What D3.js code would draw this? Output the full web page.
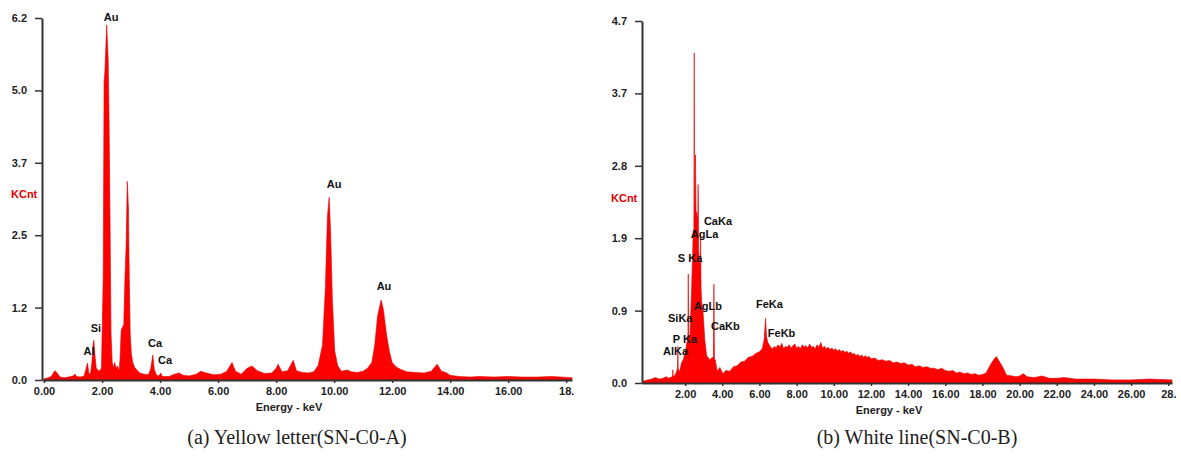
<!doctype html>
<html>
<head>
<meta charset="utf-8">
<script src="https://cdnjs.cloudflare.com/ajax/libs/d3/7.8.5/d3.min.js"></script>
<style>
  body { margin: 0; background: white; }
  svg { background: white; display: block; }
  .tick text { font-family: "Liberation Sans", Arial, sans-serif; font-weight: bold; font-size: 11px; fill: #222; }
  .peak { font-family: "Liberation Sans", Arial, sans-serif; font-weight: bold; font-size: 11px; fill: #111; }
  .unit { font-family: "Liberation Sans", Arial, sans-serif; font-weight: bold; font-size: 11px; fill: #e00000; }
  .xtitle { font-family: "Liberation Sans", Arial, sans-serif; font-weight: bold; font-size: 11px; fill: #222; }
  .caption { font-family: "Liberation Serif", "Times New Roman", serif; font-size: 20px; fill: #222; }
</style>
</head>
<body>
<svg width="1181" height="457"></svg>
<script>
// spectrum (a) - yellow letter
const specA_keV = [0.00,0.15,0.25,0.32,0.38,0.45,0.55,0.70,0.85,1.00,1.07,1.12,1.25,1.38,1.45,1.50,1.54,1.60,1.65,1.69,1.72,1.75,1.80,1.90,1.98,2.04,2.07,2.10,2.16,2.21,2.24,2.28,2.31,2.35,2.40,2.44,2.48,2.53,2.58,2.62,2.66,2.70,2.75,2.79,2.83,2.87,2.91,2.93,2.97,3.01,3.06,3.12,3.20,3.30,3.45,3.60,3.68,3.75,3.80,3.88,3.96,4.02,4.08,4.30,4.50,4.65,4.80,5.00,5.25,5.40,5.60,5.85,6.10,6.30,6.48,6.60,6.80,7.00,7.17,7.35,7.60,7.85,8.00,8.07,8.20,8.40,8.59,8.70,8.90,9.10,9.30,9.45,9.60,9.70,9.77,9.83,9.88,9.94,10.02,10.12,10.25,10.45,10.60,10.80,11.00,11.15,11.30,11.40,11.50,11.62,11.70,11.80,11.90,12.00,12.15,12.30,12.50,12.80,13.10,13.35,13.55,13.70,13.85,14.00,14.30,14.70,15.00,15.50,16.00,16.50,17.00,17.50,18.20];
const specA_kcnt = [0.02,0.04,0.06,0.12,0.16,0.12,0.05,0.04,0.05,0.07,0.10,0.06,0.05,0.07,0.20,0.29,0.12,0.10,0.30,0.60,0.68,0.45,0.20,0.15,0.20,1.76,5.10,5.30,6.08,5.50,4.55,2.50,0.80,0.30,0.22,0.30,0.20,0.24,0.15,0.35,0.85,0.90,0.95,1.76,2.30,3.40,2.95,2.05,0.80,0.45,0.30,0.22,0.17,0.12,0.10,0.09,0.20,0.43,0.18,0.08,0.07,0.12,0.06,0.06,0.10,0.12,0.08,0.07,0.10,0.15,0.12,0.09,0.10,0.15,0.30,0.15,0.10,0.20,0.24,0.16,0.11,0.12,0.20,0.27,0.14,0.16,0.34,0.16,0.13,0.12,0.14,0.25,0.60,1.60,2.80,3.13,2.50,1.37,0.50,0.25,0.15,0.17,0.14,0.13,0.15,0.20,0.30,0.60,1.10,1.37,1.20,0.80,0.50,0.30,0.22,0.18,0.14,0.13,0.12,0.15,0.27,0.15,0.13,0.08,0.06,0.05,0.06,0.05,0.06,0.05,0.05,0.06,0.04];
const ticksA_y = ["0.0","1.2","2.5","3.7","5.0","6.2"];
const ticksA_x = ["0.00","2.00","4.00","6.00","8.00","10.00","12.00","14.00","16.00","18."];
const peaksA = [["Au",2.31,6.15],["Si",1.79,0.82],["Al",1.55,0.43],["Ca",3.83,0.57],["Ca",4.17,0.27],["Au",10.0,3.29],["Au",11.72,1.54]];

// spectrum (b) - white line
const specB_keV = [
  -0.30,-0.20,0.20,0.40,0.60,0.80,1.00,1.10,1.20,1.32,1.34,1.36,1.45,1.55,1.59,1.61,1.63,1.70,
  1.81,1.90,1.99,2.05,2.08,2.15,2.17,2.19,2.26,2.35,2.44,2.47,2.49,2.51,2.53,2.56,2.59,2.62,
  2.68,2.70,2.73,2.76,2.81,2.83,2.86,2.89,2.97,3.06,3.16,3.33,3.42,3.52,3.55,3.58,3.62,3.73,3.87,4.03,
  4.20,4.40,4.60,4.80,5.00,5.20,5.40,5.60,5.80,6.00,6.15,6.25,6.33,6.38,6.45,
  6.5,6.6,6.7,6.8,6.9,7.0,7.1,7.2,7.3,7.4,7.5,7.6,7.7,7.8,7.9,8.0,8.1,8.2,8.3,8.4,
  8.5,8.6,8.7,8.8,8.9,9.0,9.1,9.2,9.3,9.4,9.5,9.6,9.7,9.8,9.9,10.0,10.1,10.2,10.3,10.4,
  10.5,10.6,10.7,10.8,10.9,11.0,11.1,11.2,11.3,11.4,11.5,11.6,11.7,11.8,11.9,12.0,
  12.2,12.4,12.6,12.8,13.0,13.2,13.4,13.6,13.8,14.0,14.2,14.4,14.6,14.8,15.0,15.2,15.4,15.6,15.8,16.0,16.2,16.4,16.6,16.8,17.0,17.2,17.4,17.6,17.8,18.0,18.2,
  18.40,18.60,18.75,18.90,19.10,19.30,19.60,19.80,20.00,20.20,20.40,20.80,21.20,21.60,22.00,22.40,23.00,24.00,25.00,26.00,27.00,28.20];
const specB_kcnt = [
  0.00,0.03,0.05,0.07,0.05,0.06,0.08,0.06,0.07,0.08,0.17,0.08,0.10,0.15,0.20,0.47,0.18,0.14,
  0.26,0.30,0.38,0.45,0.51,0.55,1.40,0.60,0.60,1.20,1.96,1.90,4.24,2.00,2.20,2.93,2.10,2.20,
  2.10,2.55,1.70,1.60,1.50,1.90,1.20,1.05,0.90,0.55,0.35,0.30,0.32,0.33,1.27,0.30,0.30,0.15,0.20,0.12,
  0.16,0.15,0.21,0.22,0.27,0.28,0.33,0.34,0.38,0.40,0.44,0.55,0.83,0.60,0.52,
  0.50,0.46,0.44,0.47,0.45,0.49,0.46,0.51,0.44,0.47,0.46,0.49,0.45,0.48,0.50,0.45,0.47,0.44,0.49,0.46,
  0.48,0.45,0.50,0.46,0.47,0.44,0.49,0.46,0.52,0.45,0.47,0.44,0.46,0.43,0.45,0.42,0.44,0.41,0.43,0.40,
  0.42,0.39,0.41,0.38,0.40,0.37,0.38,0.35,0.37,0.34,0.36,0.33,0.35,0.33,0.34,0.31,
  0.32,0.29,0.30,0.28,0.29,0.26,0.27,0.25,0.26,0.23,0.24,0.21,0.22,0.20,0.21,0.19,0.19,0.17,0.19,0.16,0.15,0.16,0.13,0.14,0.12,0.13,0.11,0.12,0.10,0.11,0.13,
  0.22,0.30,0.34,0.28,0.20,0.10,0.09,0.08,0.09,0.12,0.08,0.07,0.09,0.06,0.06,0.07,0.05,0.05,0.04,0.04,0.05,0.04];
const ticksB_y = ["0.0","0.9","1.9","2.8","3.7","4.7"];
const ticksB_x = ["2.00","4.00","6.00","8.00","10.00","12.00","14.00","16.00","18.00","20.00","22.00","24.00","26.00","28."];
const peaksB = [["CaKa",3.01,2.03],["AgLa",2.31,1.86],["S Ka",1.61,1.55],["AgLb",2.47,0.94],["SiKa",1.08,0.78],["CaKb",3.39,0.68],["P Ka",1.34,0.51],["AlKa",0.81,0.36],["FeKa",5.81,0.96],["FeKb",6.45,0.59]];

const captions = ["(a) Yellow letter(SN-C0-A)", "(b) White line(SN-C0-B)"];

const svg = d3.select("svg");

function panel(cfg) {
  const x = d3.scaleLinear().domain(cfg.xDom).range(cfg.xRange);
  const y = d3.scaleLinear().domain([0, cfg.yMax]).range(cfg.yRange);
  const g = svg.append("g");
  const pts = cfg.keV.map((e, i) => [e, cfg.kcnt[i]]);

  const area = d3.area()
    .x(d => x(d[0]))
    .y0(y(0))
    .y1(d => y(d[1]));
  g.append("path")
    .datum(pts)
    .attr("d", area)
    .style("fill", "#ff0000")
    .style("stroke", "#e00000")
    .style("stroke-width", "0.6px");

  const yAxis = d3.axisLeft(y)
    .tickValues(d3.range(6).map(i => cfg.yMax * i / 5))
    .tickFormat((d, i) => cfg.yLabels[i])
    .tickSize(7).tickSizeOuter(0).tickPadding(8);
  g.append("g").attr("transform", `translate(${cfg.xRange[0]},0)`).call(yAxis);

  const xAxis = d3.axisBottom(x)
    .tickValues(cfg.xTicks)
    .tickFormat((d, i) => cfg.xLabels[i])
    .tickSize(3).tickSizeOuter(0).tickPadding(4);
  g.append("g").attr("transform", `translate(0,${cfg.yRange[0]})`).call(xAxis);

  g.selectAll(".domain").style("stroke", "#333").style("stroke-width", "2px");
  g.selectAll(".tick line").style("stroke", "#333").style("stroke-width", "1.5px");

  g.selectAll(".peak")
    .data(cfg.peaks)
    .enter().append("text")
    .attr("class", "peak")
    .attr("x", d => x(d[1]))
    .attr("y", d => y(d[2]))
    .attr("text-anchor", cfg.peakAnchor)
    .text(d => d[0]);

  g.append("text").attr("class", "unit")
    .attr("x", cfg.unitPos[0]).attr("y", cfg.unitPos[1]).text("KCnt");
  g.append("text").attr("class", "xtitle")
    .attr("x", cfg.titlePos[0]).attr("y", cfg.titlePos[1])
    .attr("text-anchor", "middle").text("Energy - keV");
  g.append("text").attr("class", "caption")
    .attr("x", cfg.captionPos[0]).attr("y", cfg.captionPos[1])
    .attr("text-anchor", "middle").text(cfg.caption);
}

panel({
  keV: specA_keV, kcnt: specA_kcnt,
  xDom: [-0.07, 18.2], xRange: [42, 572],
  yMax: 6.2, yRange: [380, 18],
  yLabels: ticksA_y,
  xTicks: d3.range(0, 19, 2), xLabels: ticksA_x,
  peaks: peaksA, peakAnchor: "middle",
  unitPos: [11, 198], titlePos: [289, 411], captionPos: [297, 444],
  caption: captions[0]
});

panel({
  keV: specB_keV, kcnt: specB_kcnt,
  xDom: [-0.32, 28.2], xRange: [642, 1172],
  yMax: 4.65, yRange: [383, 21],
  yLabels: ticksB_y,
  xTicks: d3.range(2, 29, 2), xLabels: ticksB_x,
  peaks: peaksB, peakAnchor: "start",
  unitPos: [611, 202], titlePos: [889, 414], captionPos: [917, 444],
  caption: captions[1]
});
</script>
</body>
</html>
